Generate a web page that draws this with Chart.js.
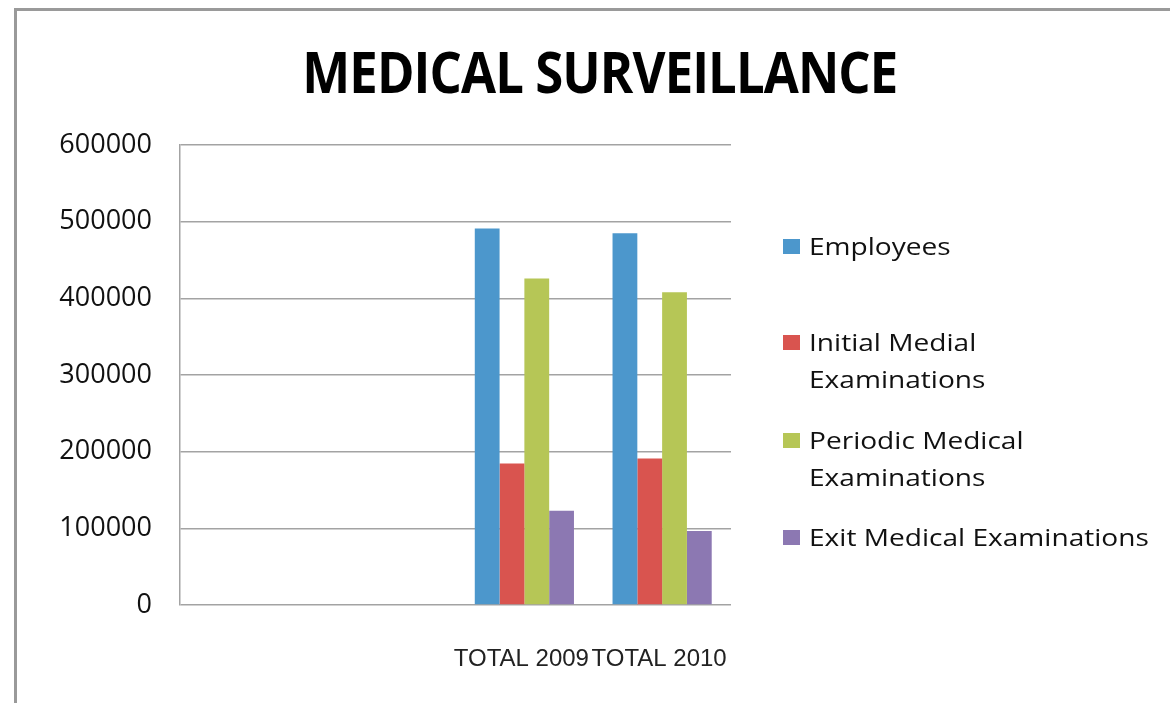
<!DOCTYPE html>
<html>
<head>
<meta charset="utf-8">
<title>Medical Surveillance</title>
<script src="https://cdn.jsdelivr.net/npm/chart.js@4.4.1/dist/chart.umd.min.js"></script>
<style>
	html, body { margin:0; padding:0; background:#fff; }
	body { width:1170px; height:703px; position:relative; overflow:hidden; }
	#frame { position:absolute; left:14px; top:8px; width:1200px; height:760px; border-top:3px solid #9a9a9a; border-left:3px solid #9a9a9a; }
	#title { position:absolute; left:0; width:1199px; top:43px; text-align:center; font-family:"Open Sans",sans-serif; font-weight:bold; font-size:57px; line-height:57px; color:#000; }
	#title span { display:inline-block; transform-origin:center; letter-spacing:-1px; }
	#wrap { position:absolute; left:0; top:0; width:1170px; height:703px; }
	#legend { position:absolute; left:783px; top:0; }
	.item { position:absolute; left:0; width:380px; font-family:"Open Sans",sans-serif; font-size:24px; line-height:36.5px; color:#111; }
	.item .box { position:absolute; left:0; top:11px; width:17px; height:15px; }
	.item .txt { position:absolute; left:26px; width:294px; transform:scaleX(1.17); transform-origin:left top; }
</style>
</head>
<body>
<div id="frame"></div>
<div id="wrap"><canvas id="chart"></canvas></div>
<div id="title"><span>MEDICAL SURVEILLANCE</span></div>
<div id="legend"></div>

<script>
// dados do gráfico
const categorias = ['', '', 'TOTAL 2009', 'TOTAL 2010'];
const empregados = [null, null, 491000, 485000];
const examesIniciais = [null, null, 184500, 191000];
const examesPeriodicos = [null, null, 426000, 408000];
const examesSaida = [null, null, 123000, 96500];
const nomesSeries = ['Employees', 'Initial Medial Examinations', 'Periodic Medical Examinations', 'Exit Medical Examinations'];
const cores = ['#4c97cc', '#d9544f', '#b6c656', '#8c78b2'];
const yTicks = [0, 100000, 200000, 300000, 400000, 500000, 600000];

// topo de cada item da legenda (linha 1)
const legendaTopo = [228, 324, 422, 519];

function renderLegend(){
	const el = document.getElementById('legend');
	el.innerHTML = '';
	nomesSeries.forEach((nome, i)=>{
		const div = document.createElement('div');
		div.className = 'item';
		div.style.top = legendaTopo[i] + 'px';
		div.innerHTML = `<div class="box" style="background:${cores[i]}"></div><div class="txt">${nome}</div>`;
		el.appendChild(div);
	});
}

function fitTitle(){
	// largura do título no original: ~595px
	const sp = document.querySelector('#title span');
	const w = sp.getBoundingClientRect().width;
	if (w > 0) sp.style.transform = `scaleX(${595 / w})`;
}

let chart;
function renderChart(){
	const ctx = document.getElementById('chart');
	const series = [empregados, examesIniciais, examesPeriodicos, examesSaida];
	chart = new Chart(ctx, {
		type: 'bar',
		data: {
			labels: categorias,
			datasets: series.map((d, i)=>({
				label: nomesSeries[i],
				data: d,
				backgroundColor: cores[i],
				borderWidth: 0,
				categoryPercentage: 0.72,
				barPercentage: 1
			}))
		},
		options: {
			responsive: true,
			maintainAspectRatio: false,
			animation: false,
			layout: { padding: { left: 0, right: 439, top: 145, bottom: 0 } },
			plugins: { legend: { display: false }, tooltip: { enabled: false }, title: { display: false } },
			scales: {
				x: {
					grid: { display: false, drawTicks: false },
					border: { display: false },
					ticks: { color: '#222', padding: 40, labelOffset: -3, maxRotation: 0, autoSkip: false, font: { family: 'Liberation Sans, Arial, sans-serif', size: 24 } },
					afterFit: (s)=>{ s.height = 98; }
				},
				y: {
					min: 0,
					max: 600000,
					afterBuildTicks: (s)=>{ s.ticks = yTicks.map(v=>({ value: v })); },
					grid: { color: '#a3a3a3', lineWidth: 1.5, drawTicks: false },
					border: { display: true, color: '#a3a3a3', width: 1.5 },
					ticks: { color: '#111', padding: 28, font: { family: 'Open Sans, sans-serif', size: 27 }, callback: (v)=>String(v) },
					afterFit: (s)=>{ s.width = 180; }
				}
			}
		}
	});
}

window.addEventListener('DOMContentLoaded', ()=>{
	fitTitle();
	renderLegend();
	renderChart();
});
</script>
</body>
</html>
